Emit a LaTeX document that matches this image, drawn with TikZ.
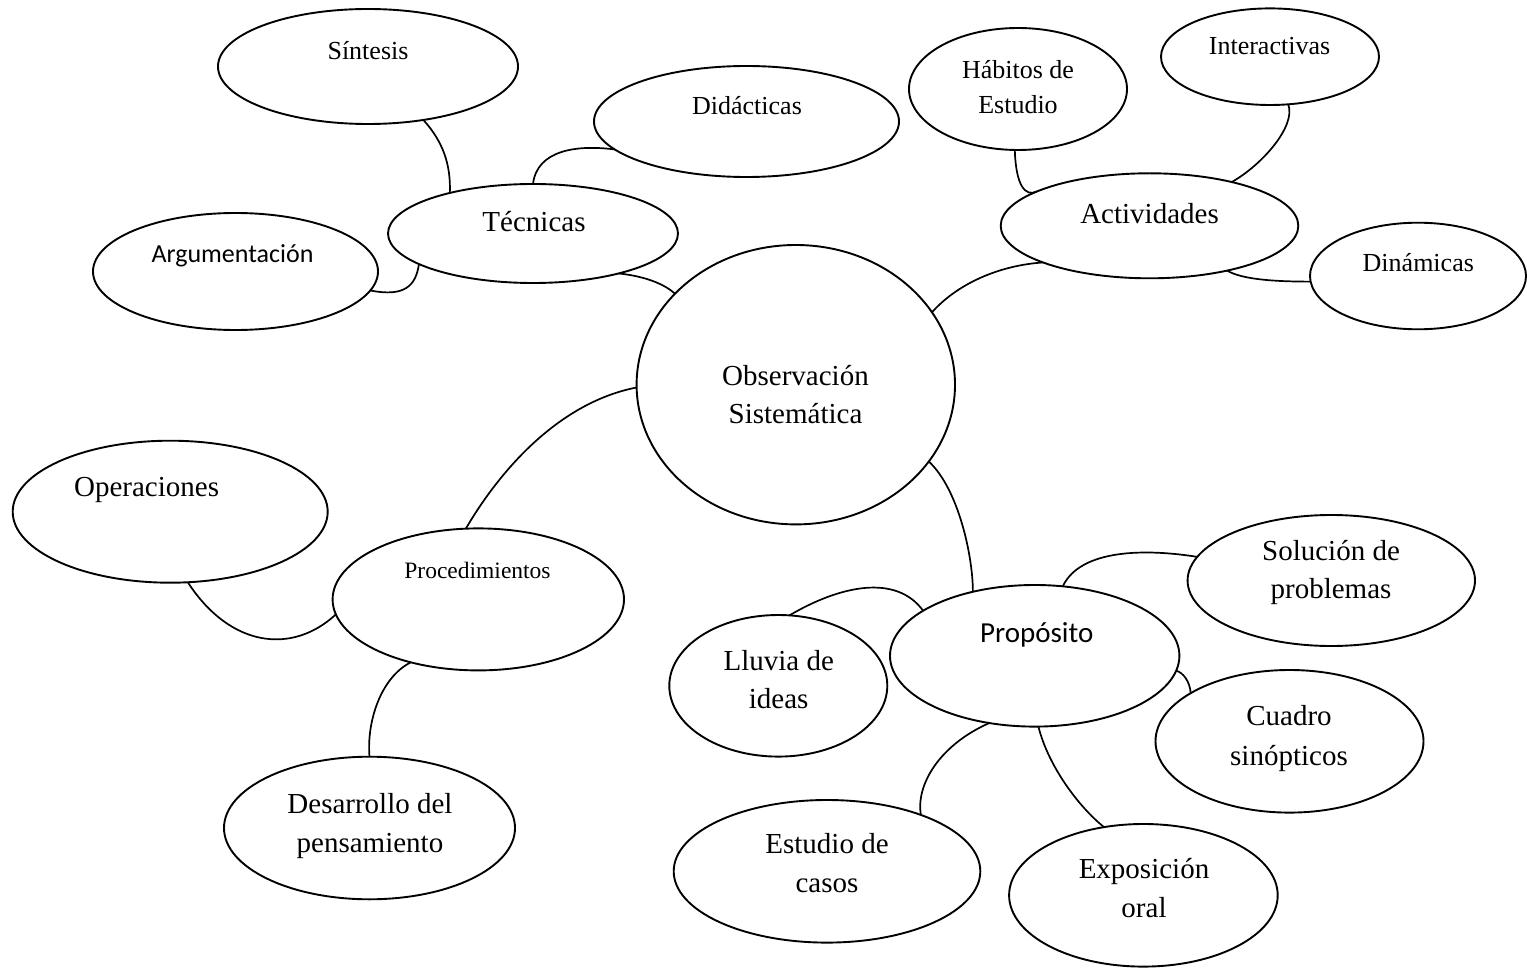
\documentclass[tikz,border=0pt]{standalone}
\usepackage{fontspec}
\setmainfont{Liberation Serif}
\newfontfamily\calfont{Carlito}
\usetikzlibrary{shapes.geometric}
\tikzset{
  ell/.style={draw, ellipse, inner sep=0pt, outer sep=0pt, line width=1.9pt},
  el/.style n args={2}{ell, minimum width=#1pt, minimum height=#2pt},
  con/.style={line width=1.7pt},
  lbl/.style={inner sep=0pt, anchor=base, align=center},
  big/.style={font=\fontsize{29}{38.3}\selectfont},
  med/.style={font=\fontsize{26}{35}\selectfont},
  sml/.style={font=\fontsize{23.5}{28}\selectfont},
  calbig/.style={font=\calfont\fontsize{29}{36}\selectfont},
  calmed/.style={font=\calfont\fontsize{26}{32}\selectfont},
}
\begin{document}
\begin{tikzpicture}[x=1pt,y=-1pt]
\fill[white] (0,0) rectangle (1527,968);
\useasboundingbox (0,0) rectangle (1527,968);
% ellipses
\node[el={300}{115}]     (sin) at (368,66.5) {};
\node[el={305}{111}]     (did) at (746.5,121.5) {};
\node[el={290}{99}]      (tec) at (533,233.5) {};
\node[el={285}{117}]     (arg) at (235.5,271.5) {};
\node[el={318.4}{279.4}] (obs) at (795.8,384.7) {};
\node[el={218}{122}]     (hab) at (1018,89) {};
\node[el={218}{96.6}]    (int) at (1270,56.7) {};
\node[el={297.6}{105}]   (act) at (1149.5,225.8) {};
\node[el={216}{106.6}]   (din) at (1418,276) {};
\node[el={315}{142}]     (ope) at (170.2,511.7) {};
\node[el={291.4}{142}]   (pro) at (478.3,599.4) {};
\node[el={291}{142.6}]   (des) at (369.5,828) {};
\node[el={289.4}{141.6}] (prp) at (1034.7,655.8) {};
\node[el={218}{141.6}]   (llu) at (778.3,685.8) {};
\node[el={287.4}{131}]   (sol) at (1331.3,580.5) {};
\node[el={268}{142.6}]   (cua) at (1289.5,741.3) {};
\node[el={306.6}{142.6}] (est) at (827,871.3) {};
\node[el={268.6}{142.6}] (exp) at (1143.4,895.3) {};
% labels (multi-line labels: base = baseline of last line)
\node[lbl,med]    (tsin) at (368,59.8) {Síntesis};
\node[lbl,med]    (tdid) at (747,114.8) {Didácticas};
\node[lbl,big]    (ttec) at (534,231.7) {Técnicas};
\node[lbl,calmed] (targ) at (232.5,262.8) {Argumentación};
\node[lbl,big]    (tobs) at (795.5,423.7) {Observación\\Sistemática};
\node[lbl,med]    (thab) at (1018,113.8) {Hábitos de\\Estudio};
\node[lbl,med]    (tint) at (1269.5,54.5) {Interactivas};
\node[lbl,big]    (tact) at (1149.5,223.7) {Actividades};
\node[lbl,med]    (tdin) at (1418.3,271.1) {Dinámicas};
\node[lbl,big]    (tope) at (146.6,496) {Operaciones};
\node[lbl,sml]    (tpro) at (477.5,578.8) {Procedimientos};
\node[lbl,big]    (tdes) at (370,852) {Desarrollo del\\pensamiento};
\node[lbl,big]    (tllu) at (778.7,708.7) {Lluvia de\\ideas};
\node[lbl,calbig] (tprp) at (1036.7,642) {Propósito};
\node[lbl,big]    (tsol) at (1331,598.7) {Solución de\\problemas};
\node[lbl,big,font=\fontsize{29}{40}\selectfont] (tcua) at (1289,765.4) {Cuadro\\sinópticos};
\node[lbl,big]    (test) at (827,892) {Estudio de\\casos};
\node[lbl,big]    (texp) at (1144,917) {Exposición\\oral};
% connectors
\draw[con] (sin.-44.75) .. controls +(20,22) and +(1,-28) .. (tec.154.5);
\draw[con] (did.192) .. controls +(-38,-5) and +(4,-34) .. (tec.north);
\draw[con] (arg.-8) .. controls +(35,7) and +(-3,21) .. (tec.-165);
\draw[con] (tec.-25.8) .. controls +(28,3) and +(-10,-9) .. (obs.143);
\draw[con] (obs.28.8) .. controls +(25,-28) and +(-45,3) .. (act.-161.4);
\draw[con] (hab.-93) .. controls +(1,35) and +(-12,6) .. (act.163.4);
\draw[con] (int.-69.6) .. controls +(8,22) and +(30,-17) .. (act.28.8);
\draw[con] (act.-30.7) .. controls +(15,9) and +(-35,0) .. (din.183.7);
\draw[con] (obs.181.3) .. controls +(-87,17) and +(25,-43) .. (pro.100.5);
\draw[con] (ope.-76.9) .. controls +(43,66) and +(-43,40) .. (pro.186.5);
\draw[con] (pro.223.8) .. controls +(-30,15) and +(-3,-35) .. (des.north);
\draw[con] (obs.-30.9) .. controls +(30,28) and +(0,-35) .. (prp.134);
\draw[con] (llu.81) .. controls +(51,-30) and +(-27,-37) .. (prp.158);
\draw[con] (prp.68.9) .. controls +(18,-38) and +(-50,-8) .. (sol.170);
\draw[con] (prp.-6.3) .. controls +(7,2) and +(-1,-12) .. (cua.154.8);
\draw[con] (prp.-124.1) .. controls +(-50,22) and +(-5,-30) .. (est.31.7);
\draw[con] (prp.-87) .. controls +(10,40) and +(-25,-20) .. (exp.120.9);
\end{tikzpicture}
\end{document}
